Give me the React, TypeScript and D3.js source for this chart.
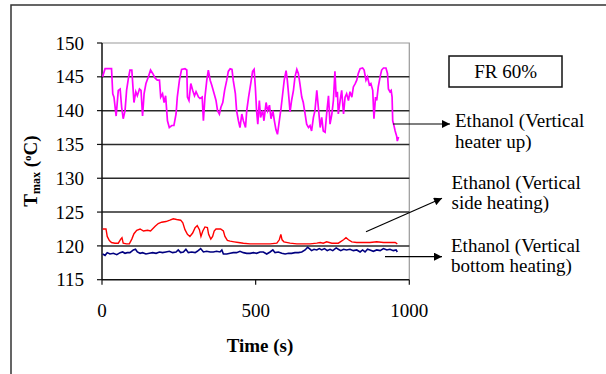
import React from "react";
import * as d3 from "d3";

// Maximum temperature traces, FR 60%: [time (s), Tmax (°C)]
const heaterUp: [number, number][] = [
  [2, 145.0], [10, 146.2], [31, 146.2], [35, 142.5], [39, 142.0], [46, 139.2], [53, 143.0], [59, 143.2],
  [64, 140.5], [69, 138.8], [75, 140.0], [80, 143.0], [86, 144.8], [91, 146.0], [97, 146.0], [100, 144.0],
  [104, 141.2], [110, 142.8], [115, 142.2], [122, 143.2], [127, 143.0], [132, 139.2], [137, 142.5], [143, 144.0],
  [151, 145.0], [158, 146.0], [165, 145.5], [173, 144.8], [180, 144.5], [187, 144.5], [191, 142.0], [197, 142.5],
  [202, 141.2], [207, 142.2], [213, 138.5], [219, 137.5], [227, 137.8], [234, 137.8], [241, 139.5], [245, 142.0],
  [252, 144.5], [259, 146.1], [270, 146.2], [276, 146.0], [278, 142.0], [283, 141.5], [289, 144.0], [295, 143.0],
  [301, 142.2], [306, 142.8], [314, 142.0], [319, 141.8], [326, 142.0], [330, 138.5], [335, 142.0], [341, 144.5],
  [346, 146.0], [352, 144.5], [357, 143.8], [365, 142.5], [371, 141.5], [376, 140.0], [382, 139.5], [387, 140.5],
  [393, 141.2], [399, 143.0], [406, 144.5], [411, 145.8], [417, 146.2], [423, 146.1], [427, 144.5], [434, 142.5],
  [438, 140.0], [444, 138.5], [449, 137.5], [455, 139.5], [460, 138.5], [467, 137.5], [471, 140.0], [477, 142.0],
  [484, 144.0], [490, 145.8], [495, 146.1], [499, 143.5], [503, 140.0], [507, 138.0], [512, 141.5], [516, 139.0],
  [523, 140.0], [527, 138.5], [534, 141.2], [539, 140.0], [545, 140.8], [550, 138.8], [556, 140.0], [561, 138.5],
  [566, 137.2], [571, 136.5], [577, 138.5], [583, 140.5], [588, 142.5], [593, 144.5], [599, 145.9], [603, 144.5],
  [608, 142.0], [612, 139.8], [617, 141.5], [623, 143.0], [628, 145.0], [634, 146.1], [639, 145.5], [644, 144.0],
  [650, 142.0], [655, 141.2], [661, 139.5], [666, 138.0], [672, 137.5], [677, 137.8], [682, 137.0], [688, 139.0],
  [693, 140.0], [699, 143.0], [704, 140.5], [710, 137.5], [715, 139.0], [720, 137.0], [726, 136.8], [731, 139.5],
  [737, 142.2], [742, 138.0], [748, 139.5], [753, 141.5], [758, 145.8], [762, 142.0], [766, 142.8], [769, 139.5],
  [775, 141.5], [780, 143.0], [786, 139.5], [791, 142.0], [796, 142.5], [802, 141.5], [807, 142.8], [813, 142.0],
  [818, 143.5], [824, 144.0], [829, 144.5], [834, 145.5], [840, 146.2], [848, 146.3], [853, 146.0], [859, 144.5],
  [864, 145.0], [870, 143.8], [875, 144.0], [881, 143.0], [885, 138.8], [890, 142.0], [894, 141.5], [899, 143.5],
  [905, 145.0], [910, 146.0], [916, 146.3], [924, 146.3], [929, 145.5], [932, 143.2], [937, 142.8], [941, 143.0],
  [944, 142.0], [946, 138.5], [950, 137.8], [954, 137.0], [959, 136.2], [961, 135.5], [965, 136.1],
];

const sideHeating: [number, number][] = [
  [2, 122.5], [13, 122.5], [17, 121.4], [24, 120.8], [31, 120.5], [42, 120.4], [53, 120.4], [61, 121.0],
  [65, 121.2], [69, 120.4], [80, 120.3], [89, 120.3], [97, 121.0], [104, 121.8], [113, 122.3], [124, 122.5],
  [135, 122.2], [148, 122.3], [158, 122.2], [173, 122.9], [183, 123.3], [194, 123.5], [208, 123.6], [221, 123.8],
  [232, 124.0], [243, 123.9], [256, 123.8], [263, 123.4], [270, 122.4], [278, 121.7], [286, 121.4], [295, 121.9],
  [303, 122.7], [310, 123.0], [317, 122.4], [322, 121.4], [328, 122.2], [335, 122.8], [343, 122.7], [347, 121.7],
  [354, 121.0], [360, 121.4], [365, 122.2], [371, 122.5], [386, 122.5], [395, 122.2], [400, 121.4], [408, 120.8],
  [417, 120.7], [430, 120.6], [444, 120.5], [460, 120.4], [482, 120.3], [503, 120.3], [525, 120.3], [547, 120.3],
  [569, 120.4], [577, 120.9], [582, 121.7], [586, 120.9], [592, 120.6], [612, 120.4], [634, 120.3], [655, 120.3],
  [677, 120.3], [699, 120.4], [710, 120.5], [720, 120.4], [731, 120.6], [748, 120.4], [769, 120.4], [786, 120.9],
  [794, 121.2], [802, 120.9], [813, 120.6], [829, 120.5], [851, 120.5], [872, 120.5], [894, 120.6], [916, 120.5],
  [937, 120.5], [954, 120.5], [961, 120.3],
];

const bottomHeating: [number, number][] = [
  [2, 118.8], [10, 118.6], [17, 119.0], [26, 118.8], [37, 118.9], [48, 118.7], [59, 119.0], [67, 119.1],
  [75, 118.9], [82, 119.0], [91, 119.0], [102, 119.4], [109, 119.5], [115, 119.1], [124, 118.9], [132, 119.0],
  [143, 118.8], [154, 118.9], [165, 119.0], [176, 118.9], [187, 119.1], [197, 119.0], [208, 119.1], [219, 119.2],
  [230, 119.0], [241, 119.1], [248, 119.4], [256, 119.0], [265, 119.1], [273, 119.5], [281, 119.0], [292, 119.1],
  [303, 119.0], [310, 119.2], [321, 119.6], [330, 119.1], [341, 119.2], [352, 119.1], [362, 119.1], [373, 119.2],
  [384, 119.1], [390, 119.4], [395, 118.8], [406, 118.8], [417, 118.9], [427, 119.0], [438, 119.0], [449, 119.2],
  [460, 119.0], [471, 118.9], [482, 118.9], [493, 119.0], [503, 118.9], [514, 119.1], [525, 119.1], [536, 118.8],
  [547, 119.1], [556, 119.4], [563, 119.0], [574, 119.1], [585, 118.9], [596, 118.8], [607, 118.9], [617, 118.9],
  [628, 119.0], [639, 119.0], [650, 119.1], [661, 119.4], [669, 119.8], [675, 119.6], [682, 119.3], [690, 119.5],
  [699, 119.4], [707, 119.6], [715, 119.4], [724, 119.6], [733, 119.3], [742, 119.5], [751, 119.3], [762, 119.7],
  [769, 119.5], [777, 119.3], [786, 119.5], [796, 119.4], [807, 119.5], [818, 119.3], [829, 119.4], [840, 119.1],
  [848, 119.4], [856, 119.1], [864, 119.5], [872, 119.4], [883, 119.2], [894, 119.4], [905, 119.3], [916, 119.6],
  [927, 119.4], [937, 119.5], [948, 119.3], [957, 119.4], [961, 119.1],
];

const yTicks = [115, 120, 125, 130, 135, 140, 145, 150];
const xTicks = [0, 500, 1000];

const W = 606;
const H = 374;
const FONT = "'Liberation Serif', 'Times New Roman', serif";
const FS = 19;

export default function App() {
  const x = d3.scaleLinear().domain([0, 1000]).range([102, 409.3]);
  const y = d3.scaleLinear().domain([115, 150]).range([279.7, 43]);
  const line = d3
    .line<[number, number]>()
    .x((d) => x(d[0]))
    .y((d) => y(d[1]));

  const x0 = x(0);
  const x1 = x(1000);
  const yBottom = y(115);
  const yTop = y(150);

  return (
    <svg
      width={W}
      height={H}
      style={{ position: "absolute", left: 0, top: 0, background: "#fff" }}
      fontFamily={FONT}
    >
      <defs>
        <marker
          id="arrow"
          viewBox="0 0 10 10"
          refX="10"
          refY="5"
          markerWidth="9"
          markerHeight="8"
          markerUnits="userSpaceOnUse"
          orient="auto"
        >
          <path d="M0,0 L10,5 L0,10 z" fill="#000" />
        </marker>
      </defs>

      {/* outer frame */}
      <path d={`M11,${H} L11,5 L${W},5`} fill="none" stroke="#333" strokeWidth={1.5} />

      {/* plot border (top and right) */}
      <path d={`M${x0},${yTop} L${x1},${yTop} L${x1},${yBottom}`} fill="none" stroke="#9a9a9a" strokeWidth={1.2} />

      {/* horizontal gridlines */}
      {yTicks
        .filter((t) => t > 115 && t < 150)
        .map((t) => (
          <line key={t} x1={x0} x2={x1} y1={y(t)} y2={y(t)} stroke="#2a2a2a" strokeWidth={1.5} />
        ))}

      {/* axes */}
      <line x1={x0} x2={x0} y1={yTop} y2={yBottom} stroke="#111" strokeWidth={1.5} />
      <line x1={x0} x2={x1} y1={yBottom} y2={yBottom} stroke="#111" strokeWidth={1.5} />
      {yTicks.map((t) => (
        <g key={t}>
          <line x1={x0 - 5} x2={x0} y1={y(t)} y2={y(t)} stroke="#111" strokeWidth={1.2} />
          <text x={84} y={y(t)} dy="0.35em" textAnchor="end" fontSize={FS} fill="#000">
            {t}
          </text>
        </g>
      ))}
      {xTicks.map((t) => (
        <g key={t}>
          <line x1={x(t)} x2={x(t)} y1={yBottom} y2={yBottom + 5} stroke="#111" strokeWidth={1.2} />
          <text x={x(t)} y={316.5} textAnchor="middle" fontSize={FS} fill="#000">
            {t}
          </text>
        </g>
      ))}

      {/* series */}
      <path d={line(bottomHeating) ?? ""} fill="none" stroke="#000080" strokeWidth={1.6} />
      <path d={line(sideHeating) ?? ""} fill="none" stroke="#ff0000" strokeWidth={1.4} />
      <path d={line(heaterUp) ?? ""} fill="none" stroke="#ff00ff" strokeWidth={1.7} />

      {/* axis titles */}
      <text x={260} y={352} textAnchor="middle" fontSize={FS} fontWeight="bold" fill="#000">
        Time (s)
      </text>
      <text
        transform="translate(37,171) rotate(-90)"
        textAnchor="middle"
        fontSize={FS}
        fontWeight="bold"
        fill="#000"
      >
        <tspan>T</tspan>
        <tspan fontSize={12} dy={3}>max</tspan>
        <tspan dy={-3}> (</tspan>
        <tspan fontSize={11} dy={-6}>o</tspan>
        <tspan dy={6}>C)</tspan>
      </text>

      {/* FR label */}
      <rect x={449} y={56} width={113} height={31} fill="#fff" stroke="#111" strokeWidth={1.5} />
      <text x={505.7} y={77.5} textAnchor="middle" fontSize={FS} fill="#000">
        FR 60%
      </text>

      {/* annotations */}
      <line x1={393} y1={124} x2={450} y2={124} stroke="#000" strokeWidth={1.2} markerEnd="url(#arrow)" />
      <text x={455} y={127} fontSize={FS} fill="#000">Ethanol (Vertical</text>
      <text x={455} y={147.5} fontSize={FS} fill="#000">heater up)</text>

      <line x1={366} y1={231.7} x2={442} y2={198.3} stroke="#000" strokeWidth={1.2} markerEnd="url(#arrow)" />
      <text x={451.5} y={188.5} fontSize={FS} fill="#000">Ethanol (Vertical</text>
      <text x={451.5} y={208.5} fontSize={FS} fill="#000">side heating)</text>

      <line x1={385} y1={256.7} x2={442} y2={256.7} stroke="#000" strokeWidth={1.2} markerEnd="url(#arrow)" />
      <text x={451} y={251.7} fontSize={FS} fill="#000">Ethanol (Vertical</text>
      <text x={451} y={271.5} fontSize={FS} fill="#000">bottom heating)</text>
    </svg>
  );
}
